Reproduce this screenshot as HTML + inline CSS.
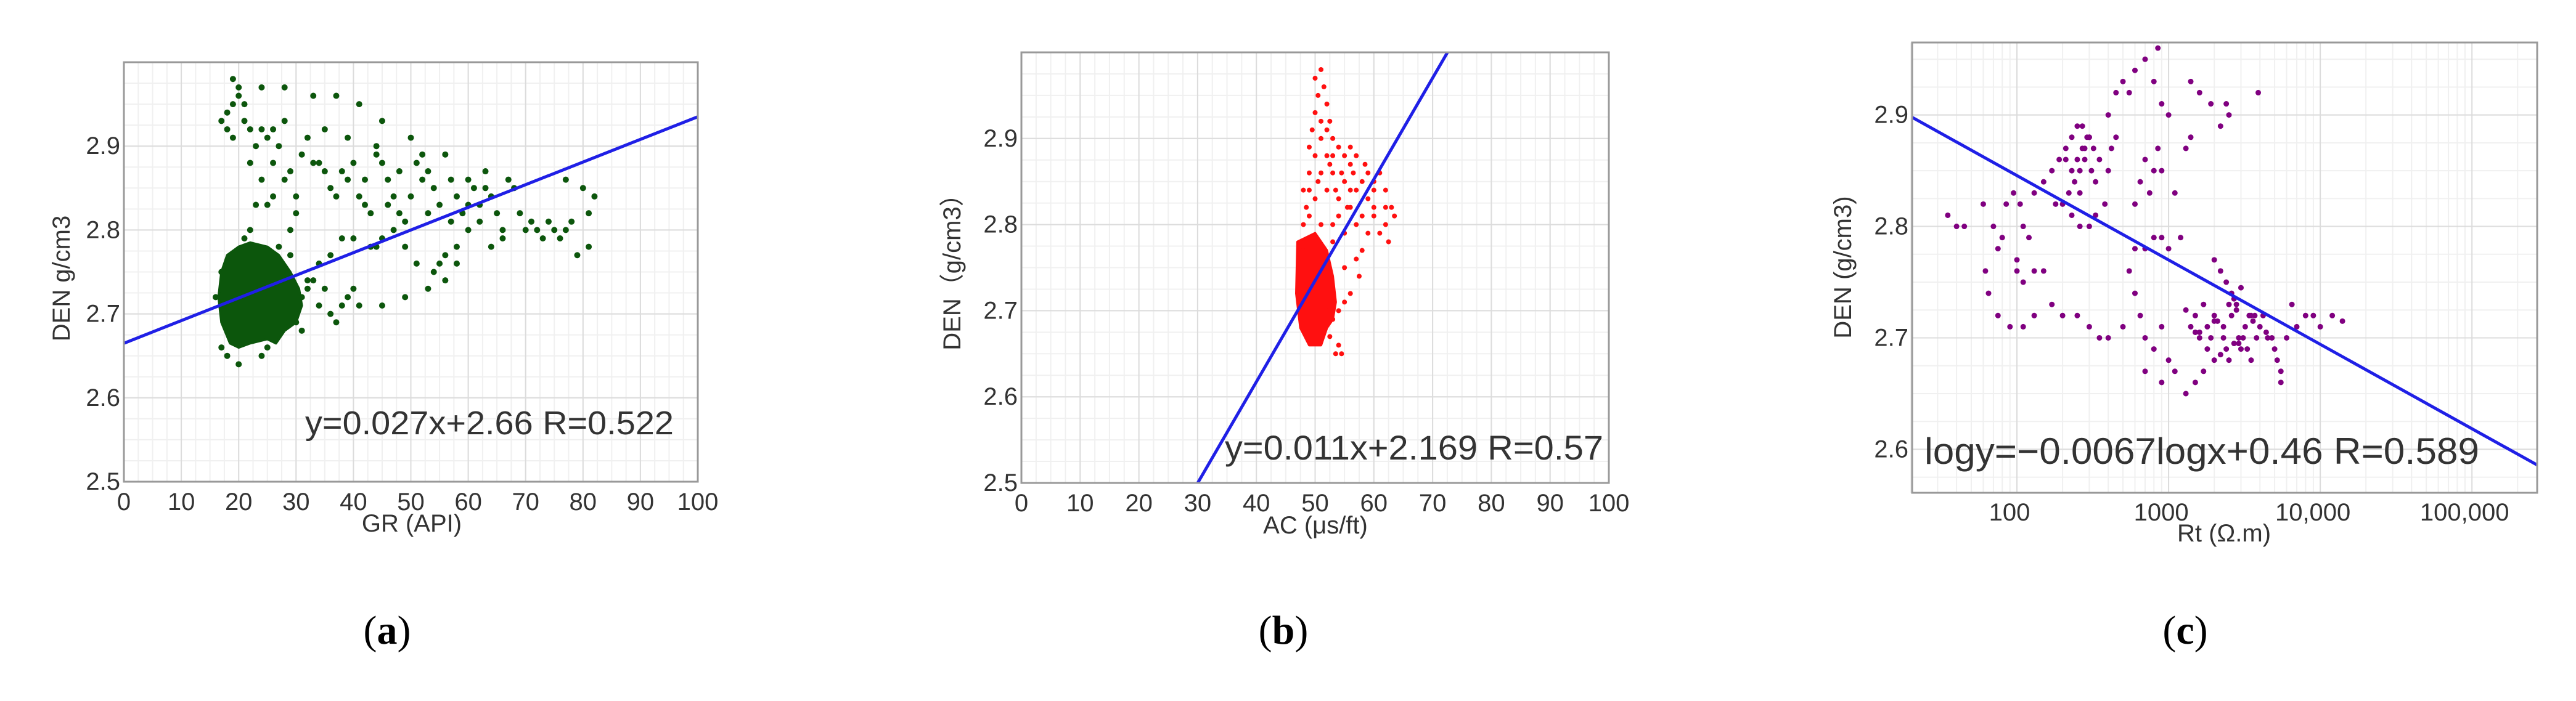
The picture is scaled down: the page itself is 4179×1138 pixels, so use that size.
<!DOCTYPE html>
<html><head><meta charset="utf-8">
<style>
html,body{margin:0;padding:0;background:#fff;overflow:hidden;width:4179px;height:1138px;}
svg{display:block;}
text{font-family:"Liberation Sans","Noto Sans CJK SC",sans-serif;fill:#333;}
.cap{font-family:"Liberation Serif",serif;fill:#000;}
</style></head>
<body>
<svg id="fig" width="4179" height="1138" viewBox="0 0 4179 1138" xmlns="http://www.w3.org/2000/svg"></svg>
<script>
// ---------- Panel (a) data: GR vs DEN ----------
const aPointsX=[18,19,20,19,20,21,17,18,19,21,22,23,24,25,22,24,26,27,28,29,30,26,25,23,22,21,24,28,33,37,41,45,32,35,39,31,33,34,35,36,37,38,39,40,41,42,43,44,45,46,47,48,49,50,51,52,53,54,55,56,57,58,59,60,61,62,63,64,65,66,67,68,69,70,71,72,73,74,75,76,77,78,79,80,81,82,81,77,66,64,62,60,58,56,55,54,51,49,47,45,43,40,38,36,34,33,32,31,34,36,37,39,41,45,49,53,56,58,35,38,40,44,42,46,50,53,57,60,63,48,52,44,28,26,30,29,27,17,18,30,32,31,25,16,17,29,30,20,24];
const aPointsY=[2.94,2.95,2.96,2.98,2.97,2.95,2.93,2.92,2.91,2.93,2.92,2.90,2.92,2.91,2.88,2.86,2.88,2.90,2.86,2.87,2.84,2.84,2.83,2.83,2.80,2.79,2.97,2.97,2.96,2.96,2.95,2.93,2.91,2.92,2.91,2.89,2.88,2.88,2.87,2.85,2.84,2.87,2.86,2.88,2.84,2.83,2.82,2.89,2.88,2.86,2.84,2.82,2.81,2.91,2.88,2.86,2.87,2.85,2.83,2.89,2.86,2.84,2.82,2.86,2.85,2.83,2.87,2.84,2.82,2.80,2.86,2.85,2.82,2.80,2.81,2.80,2.79,2.81,2.80,2.79,2.80,2.81,2.77,2.85,2.82,2.84,2.78,2.86,2.79,2.78,2.81,2.80,2.78,2.77,2.76,2.75,2.76,2.78,2.80,2.79,2.78,2.79,2.79,2.77,2.76,2.74,2.73,2.72,2.71,2.70,2.69,2.72,2.71,2.71,2.72,2.73,2.74,2.76,2.73,2.71,2.73,2.78,2.86,2.83,2.84,2.82,2.81,2.83,2.85,2.87,2.89,2.90,2.93,2.92,2.82,2.80,2.78,2.66,2.65,2.70,2.74,2.68,2.66,2.72,2.75,2.77,2.69,2.64,2.65];
const aBlobX=[17,18,20,22,25,27,29,30.5,31,30,28,26.5,25,22,20,18.5,17,16.5];
const aBlobY=[2.75,2.77,2.78,2.785,2.78,2.77,2.75,2.73,2.71,2.69,2.68,2.665,2.67,2.665,2.66,2.665,2.69,2.72];
const aFit=[0.0027,2.665]; // slope per API, intercept
const linTicksX=[0,10,20,30,40,50,60,70,80,90,100];
const linTicksY=[2.5,2.6,2.7,2.8,2.9];

// ---------- Panel (b) data: AC vs DEN ----------
const bPointsX=[51,51.5,50.5,52,50,52.5,49.5,51,53,49,50,52,54,55,56,57,56.5,58,57,55,53,51,49,48,48.5,50,52,54,56,58,59,60,61,62,63,63.5,62,61,62.5,60,59,58,57,57.5,56,55,54,53,52,57,55,53,51,49,48,55.5,58.5,52.5,50.5,53.5,54.5,56,60,62,53,54,53.5,54.5,52.5,55,50,51,52,49,53,54,48,56,59,60];
const bPointsY=[2.98,2.96,2.95,2.94,2.93,2.92,2.91,2.90,2.90,2.89,2.88,2.88,2.89,2.88,2.89,2.88,2.86,2.85,2.84,2.85,2.86,2.86,2.86,2.84,2.82,2.83,2.84,2.83,2.82,2.81,2.83,2.84,2.86,2.84,2.82,2.81,2.80,2.79,2.78,2.81,2.79,2.77,2.76,2.74,2.72,2.71,2.70,2.69,2.70,2.80,2.79,2.80,2.80,2.81,2.80,2.82,2.87,2.87,2.85,2.84,2.86,2.84,2.82,2.82,2.78,2.66,2.65,2.65,2.67,2.75,2.97,2.92,2.91,2.84,2.88,2.81,2.77,2.87,2.86,2.85];
const bBlobX=[47,50,52,53,53.5,53,52,51,49,47.5,46.8];
const bBlobY=[2.78,2.79,2.77,2.74,2.71,2.69,2.68,2.66,2.66,2.68,2.72];
const bFit=[0.01176,2.147];

// ---------- Panel (c) data: Rt vs DEN (log x) ----------
const cPointsX=[35,40,45,60,62,65,75,90,110,130,80,85,95,105,110,120,100,100,110,130,150,70,75,130,150,170,190,210,230,250,270,300,320,350,280,260,240,220,200,180,230,260,300,330,380,400,420,450,400,450,500,550,600,700,800,850,900,1000,700,650,800,850,900,750,600,1100,1400,1600,1900,2400,2500,2200,1400,1300,3900,600,700,800,900,1000,1200,550,600,650,700,800,900,500,400,350,300,250,200,170,1000,1100,900,700,1300,1500,1700,2000,2200,2000,2400,2600,2800,3500,4000,4500,5000,5500,5500,6000,7000,8000,9000,10000,12000,14000,6500,1500,1400,1600,1800,3000,2500,3500,1300,1700,2000,2300,2600,2900,3200,3600,4200,1500,1900,2100,2400,2700,3100,3400,3800,4400,2200,2500,2800,3300,1600,2000,2700,3000,2300,2900,3700,1800,4800,5200,250,270,290,310,230,210,330,280,260,300];
const cPointsY=[2.81,2.80,2.80,2.82,2.76,2.74,2.72,2.71,2.71,2.72,2.79,2.82,2.83,2.82,2.80,2.79,2.77,2.76,2.75,2.76,2.76,2.80,2.78,2.83,2.84,2.85,2.86,2.87,2.88,2.89,2.89,2.88,2.87,2.86,2.86,2.85,2.84,2.83,2.82,2.82,2.81,2.80,2.80,2.81,2.82,2.85,2.87,2.88,2.90,2.92,2.93,2.92,2.94,2.95,2.93,2.96,2.91,2.90,2.86,2.84,2.85,2.87,2.85,2.83,2.82,2.83,2.93,2.92,2.91,2.91,2.90,2.89,2.88,2.87,2.92,2.78,2.78,2.79,2.79,2.78,2.79,2.76,2.74,2.72,2.70,2.69,2.71,2.71,2.70,2.70,2.71,2.72,2.72,2.73,2.68,2.67,2.66,2.67,2.65,2.66,2.67,2.68,2.76,2.77,2.75,2.74,2.73,2.72,2.71,2.70,2.69,2.67,2.66,2.70,2.71,2.72,2.72,2.71,2.72,2.715,2.73,2.72,2.71,2.70,2.69,2.69,2.68,2.68,2.725,2.73,2.72,2.71,2.72,2.70,2.71,2.715,2.72,2.705,2.70,2.715,2.69,2.695,2.70,2.72,2.70,2.705,2.685,2.73,2.725,2.69,2.705,2.715,2.735,2.745,2.70,2.695,2.72,2.71,2.70,2.68,2.86,2.87,2.88,2.85,2.85,2.86,2.84,2.87,2.83,2.88];
const cFit=[-0.0757,2.997]; // DEN = a*log10(Rt)+b
const logTicksX=[100,1000,10000,100000];
const logTickLabels=["100","1000","10,000","100,000"];
const cTicksY=[2.6,2.7,2.8,2.9];

const NS="http://www.w3.org/2000/svg";
const svg=document.getElementById('fig');
function mk(tag,attrs,parent){const e=document.createElementNS(NS,tag);for(const k in attrs)e.setAttribute(k,attrs[k]);(parent||svg).appendChild(e);return e;}

function panel(cfg){
  const g=mk('g',{});
  
  
  const {L,R,T,B}=cfg;
  const sx=v=>L+(cfg.fx(v)-cfg.fx(cfg.x0))/(cfg.fx(cfg.x1)-cfg.fx(cfg.x0))*(R-L);
  const sy=v=>B-(v-cfg.y0)/(cfg.y1-cfg.y0)*(B-T);
  cfg.minorX.forEach(v=>{const l=mk('line',{x1:sx(v),x2:sx(v),y1:T,y2:B,stroke:'#f0f0f0','stroke-width':2},g);});
  cfg.minorY.forEach(v=>{const l=mk('line',{x1:L,x2:R,y1:sy(v),y2:sy(v),stroke:'#f0f0f0','stroke-width':2},g);});
  cfg.ticksX.forEach(v=>{const l=mk('line',{x1:sx(v),x2:sx(v),y1:T,y2:B,stroke:'#dcdcdc','stroke-width':2},g);});
  cfg.ticksY.forEach(v=>{const l=mk('line',{x1:L,x2:R,y1:sy(v),y2:sy(v),stroke:'#dcdcdc','stroke-width':2},g);});
  const cp=mk('clipPath',{id:'clip-'+cfg.name},g);mk('rect',{x:L,y:T,width:R-L,height:B-T},cp);
  const pg=mk('g',{'clip-path':'url(#clip-'+cfg.name+')'},g);
  
  
  if(cfg.blobX){const pts=cfg.blobX.map((x,i)=>sx(x)+','+sy(cfg.blobY[i])).join(' ');
    const p=mk('polygon',{points:pts,fill:cfg.color,stroke:cfg.color,'stroke-width':4,'stroke-linejoin':'round'},pg);
    
    }
  cfg.px.forEach((x,i)=>{const c=mk('circle',{cx:sx(x),cy:sy(cfg.py[i]),r:cfg.r,fill:cfg.color},pg);
    
    });
  const f=x=>cfg.fit[0]*cfg.fx(x)+cfg.fit[1];
  const ln=mk('line',{x1:sx(cfg.x0),y1:sy(f(cfg.x0)),x2:sx(cfg.x1),y2:sy(f(cfg.x1)),stroke:'#1f1fe6','stroke-width':5},pg);
  
  
  const fr=mk('rect',{x:L,y:T,width:R-L,height:B-T,fill:'none',stroke:'#999','stroke-width':3},g);
  
  
  cfg.ticksX.forEach((v,i)=>{const t=mk('text',{x:sx(v)+(cfg.xlabOff||0),y:cfg.xTickY,'font-size':cfg.tickFs,'text-anchor':'middle','dominant-baseline':'central'},g);t.textContent=cfg.xLabels?cfg.xLabels[i]:String(v);
    });
  cfg.ticksY.forEach(v=>{const t=mk('text',{x:L-6,y:sy(v),'font-size':cfg.tickFs,'text-anchor':'end','dominant-baseline':'central'},g);t.textContent=v.toFixed(1);
    });
  const xt=mk('text',{x:cfg.xTitle[0],y:cfg.xTitle[1],'font-size':cfg.tickFs,'text-anchor':'middle','dominant-baseline':'central'},g);xt.textContent=cfg.xTitleText;
  
  const yt=mk('text',{x:0,y:0,'font-size':cfg.tickFs,'text-anchor':'middle','dominant-baseline':'central',transform:`translate(${cfg.yTitle[0]},${cfg.yTitle[1]}) rotate(-90)`},g);yt.textContent=cfg.yTitleText;
  
  const eq=mk('text',{x:cfg.eq[0],y:cfg.eq[1],'font-size':cfg.eqFs,fill:'#222','textLength':cfg.eq[2],'lengthAdjust':'spacingAndGlyphs'},g);eq.textContent=cfg.eqText;
  
  const cap=mk('text',{x:cfg.cap,y:1045,'font-size':66,'text-anchor':'middle',class:'cap'},g);
  cap.innerHTML='(<tspan font-weight="bold">'+cfg.capL+'</tspan>)';
  
}
const id=v=>v;
function range(a,b,s){const r=[];for(let v=a;v<=b+1e-9;v+=s)r.push(+v.toFixed(4));return r;}
const minorLog=[20,30,40,50,60,70,80,90,200,300,400,500,600,700,800,900,2000,3000,4000,5000,6000,7000,8000,9000,20000,30000,40000,50000,60000,70000,80000,90000,200000];

panel({name:'panel-a-gr-den',L:201,R:1132,T:101,B:782,x0:0,x1:100,y0:2.5,y1:3.0,fx:id,
  minorX:range(0,100,2.5),minorY:range(2.5,3.0,0.025),ticksX:linTicksX,ticksY:linTicksY,
  px:aPointsX,py:aPointsY,blobX:aBlobX,blobY:aBlobY,r:5,color:'#0c560c',fit:aFit,
  tickFs:40,xTickY:815,xTitle:[668,850],xTitleText:'GR (API)',yTitle:[100,452],yTitleText:'DEN g/cm3',
  eq:[495,705,598],eqFs:54,eqText:'y=0.027x+2.66 R=0.522',cap:628,capL:'a'});
panel({name:'panel-b-ac-den',L:1657,R:2610,T:85,B:784,x0:0,x1:100,y0:2.5,y1:3.0,fx:id,
  minorX:range(0,100,2.5),minorY:range(2.5,3.0,0.025),ticksX:linTicksX,ticksY:linTicksY,
  px:bPointsX,py:bPointsY,blobX:bBlobX,blobY:bBlobY,r:4,color:'#ff1010',fit:bFit,
  tickFs:40,xTickY:817,xTitle:[2134,853],xTitleText:'AC (μs/ft)',yTitle:[1545,432],yTitleText:'DEN（g/cm3）',
  eq:[1987,746,614],eqFs:56,eqText:'y=0.011x+2.169 R=0.57',cap:2082,capL:'b'});
panel({name:'panel-c-rt-den',L:3102,R:4116,T:69,B:800,x0:Math.pow(10,1.309),x1:Math.pow(10,5.43),y0:2.561,y1:2.965,fx:v=>Math.log10(v),
  minorX:minorLog,minorY:range(2.575,2.95,0.025),ticksX:logTicksX,ticksY:cTicksY,xLabels:logTickLabels,xlabOff:-12,
  px:cPointsX,py:cPointsY,r:4.5,color:'#800080',fit:cFit,
  tickFs:40,xTickY:832,xTitle:[3608,866],xTitleText:'Rt (Ω.m)',yTitle:[2990,434],yTitleText:'DEN (g/cm3)',
  eq:[3122,753,900],eqFs:60,eqText:'logy=−0.0067logx+0.46 R=0.589',cap:3545,capL:'c'});
</script>
</body></html>
